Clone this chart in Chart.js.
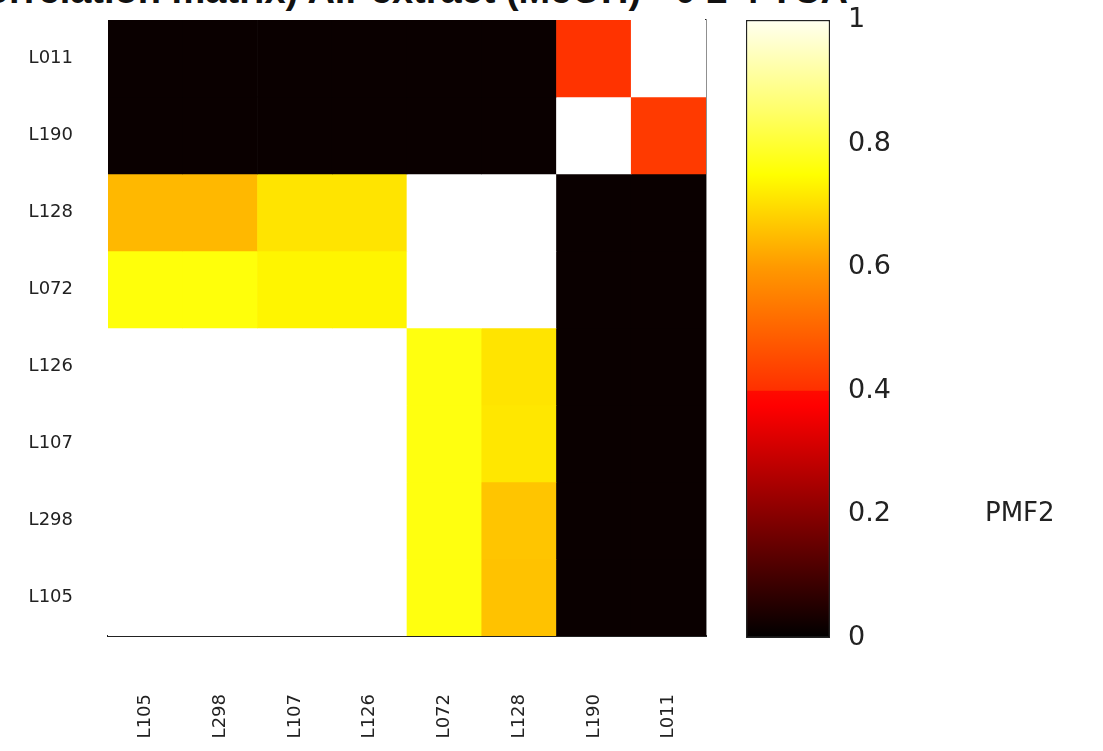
<!DOCTYPE html>
<html>
<head>
<meta charset="utf-8">
<script src="https://cdn.jsdelivr.net/npm/chart.js@4.4.0/dist/chart.umd.min.js"></script>
<style>
  html, body { margin: 0; padding: 0; background: #fff; overflow: hidden; }
  #wrap { position: relative; width: 1103px; height: 751px; }
  #titulo {
    position: absolute; right: 255px; top: -31px; white-space: nowrap;
    font: bold 38px "Liberation Sans", Arial, sans-serif; color: #111;
  }
  #heat { position: absolute; left: 0; top: 0; }
  #barra { position: absolute; left: 730px; top: 0; }
</style>
</head>
<body>
<div id="wrap">
  <div id="titulo">(Correlation matrix) Air extract (MeOH) - 0 2 4 TCA</div>
  <canvas id="heat" width="730" height="751"></canvas>
  <canvas id="barra" width="373" height="751"></canvas>
</div>
<script>
// columnas (eje x) y filas (eje y, de arriba a abajo)
const xLabels = ['L105', 'L298', 'L107', 'L126', 'L072', 'L128', 'L190', 'L011'];
const yLabels = ['L011', 'L190', 'L128', 'L072', 'L126', 'L107', 'L298', 'L105'];

// valores PMF2, una fila por cada yLabel
const rowL011 = [0.015, 0.015, 0.015, 0.015, 0.015, 0.015, 0.45, 1.00];
const rowL190 = [0.015, 0.015, 0.015, 0.015, 0.015, 0.015, 1.00, 0.46];
const rowL128 = [0.645, 0.645, 0.71, 0.71, 1.00, 1.00, 0.015, 0.015];
const rowL072 = [0.76, 0.76, 0.735, 0.735, 1.00, 1.00, 0.015, 0.015];
const rowL126 = [1.00, 1.00, 1.00, 1.00, 0.765, 0.71, 0.015, 0.015];
const rowL107 = [1.00, 1.00, 1.00, 1.00, 0.765, 0.715, 0.015, 0.015];
const rowL298 = [1.00, 1.00, 1.00, 1.00, 0.765, 0.665, 0.015, 0.015];
const rowL105 = [1.00, 1.00, 1.00, 1.00, 0.765, 0.66, 0.015, 0.015];
const pmf2 = [rowL011, rowL190, rowL128, rowL072, rowL126, rowL107, rowL298, rowL105];

// ticks de la barra de color
const cbTicks = [0, 0.2, 0.4, 0.6, 0.8, 1];
const cbLabel = 'PMF2';

// mapa de color "hot"
function hot(v) {
  const r = Math.min(1, v / 0.375);
  const g = Math.min(1, Math.max(0, (v - 0.375) / 0.375));
  const b = Math.min(1, Math.max(0, (v - 0.75) / 0.25));
  return 'rgb(' + Math.round(r * 255) + ',' + Math.round(g * 255) + ',' + Math.round(b * 255) + ')';
}

// quita el relleno extra que Chart.js reserva para medias etiquetas
function sinRelleno(s) {
  s.paddingTop = 0; s.paddingBottom = 0; s.paddingLeft = 0; s.paddingRight = 0;
}

const fuente = '"DejaVu Sans", Arial, sans-serif';
const n = yLabels.length;

// --- MAPA DE CALOR ---
const datasets = yLabels.map((nombre, i) => {
  const r = n - 1 - i;
  return {
    label: nombre,
    data: xLabels.map(() => [r, r + 1]),
    backgroundColor: pmf2[i].map(hot),
    grouped: false,
    barPercentage: 1,
    categoryPercentage: 1,
    borderWidth: 0
  };
});

new Chart(document.getElementById('heat'), {
  type: 'bar',
  data: { labels: xLabels, datasets: datasets },
  options: {
    responsive: false,
    animation: false,
    layout: { padding: { top: 20, right: 24, left: 0, bottom: 0 } },
    plugins: { legend: { display: false }, title: { display: false }, tooltip: { enabled: false } },
    scales: {
      x: {
        grid: { display: false },
        border: { display: true, color: '#222', width: 2 },
        ticks: { maxRotation: 90, minRotation: 90, padding: 50, color: '#222', font: { family: fuente, size: 18 } },
        afterFit: s => { s.height = 115; sinRelleno(s); }
      },
      y: {
        type: 'linear', min: 0, max: n,
        grid: { display: false },
        border: { display: false },
        afterBuildTicks: s => { s.ticks = yLabels.map((_, i) => ({ value: i + 0.5 })); },
        ticks: {
          padding: 27, color: '#222', font: { family: fuente, size: 18 },
          callback: v => yLabels[n - 1 - Math.floor(v)]
        },
        afterFit: s => { s.width = 108; sinRelleno(s); }
      },
      y2: {
        type: 'linear', position: 'right', min: 0, max: n,
        grid: { display: false },
        border: { display: true, color: '#222', width: 1.5 },
        ticks: { display: false },
        afterFit: s => { s.width = 0; sinRelleno(s); }
      }
    }
  }
});

// --- BARRA DE COLOR ---
function gradiente(ctx) {
  const chart = ctx.chart;
  if (!chart.chartArea) return null;
  const y = chart.scales.y;
  const g = chart.ctx.createLinearGradient(0, y.getPixelForValue(0), 0, y.getPixelForValue(1));
  g.addColorStop(0, hot(0));
  g.addColorStop(0.2, hot(0.2));
  g.addColorStop(0.375, hot(0.375));
  g.addColorStop(0.399, '#ff0a00');
  g.addColorStop(0.401, '#ff3000');
  g.addColorStop(0.6, hot(0.6));
  g.addColorStop(0.75, hot(0.75));
  g.addColorStop(0.85, hot(0.85));
  g.addColorStop(1, '#fffff0');
  return g;
}

const etiquetaBarra = {
  id: 'etiquetaBarra',
  afterDraw(chart) {
    const c = chart.ctx;
    c.save();
    c.font = '26px ' + fuente;
    c.fillStyle = '#222';
    c.textBaseline = 'middle';
    c.fillText(cbLabel, 255, chart.scales.y.getPixelForValue(0.2));
    c.restore();
  }
};

new Chart(document.getElementById('barra'), {
  type: 'bar',
  data: {
    labels: [''],
    datasets: [{
      data: [[cbTicks[0], cbTicks[cbTicks.length - 1]]],
      backgroundColor: gradiente,
      borderColor: '#222',
      borderWidth: 1.5,
      borderSkipped: false,
      barPercentage: 1,
      categoryPercentage: 1
    }]
  },
  options: {
    responsive: false,
    animation: false,
    layout: { padding: { top: 20, left: 16, bottom: 113, right: 0 } },
    plugins: { legend: { display: false }, tooltip: { enabled: false } },
    scales: {
      x: { display: false },
      y: {
        position: 'right', min: 0, max: 1,
        grid: { display: false },
        border: { display: false },
        afterBuildTicks: s => { s.ticks = cbTicks.map(v => ({ value: v })); },
        ticks: {
          padding: 10, color: '#222', font: { family: fuente, size: 27 },
          callback: v => String(+v.toFixed(1))
        },
        afterFit: s => { s.width = 273; sinRelleno(s); }
      }
    }
  },
  plugins: [etiquetaBarra]
});
</script>
</body>
</html>
